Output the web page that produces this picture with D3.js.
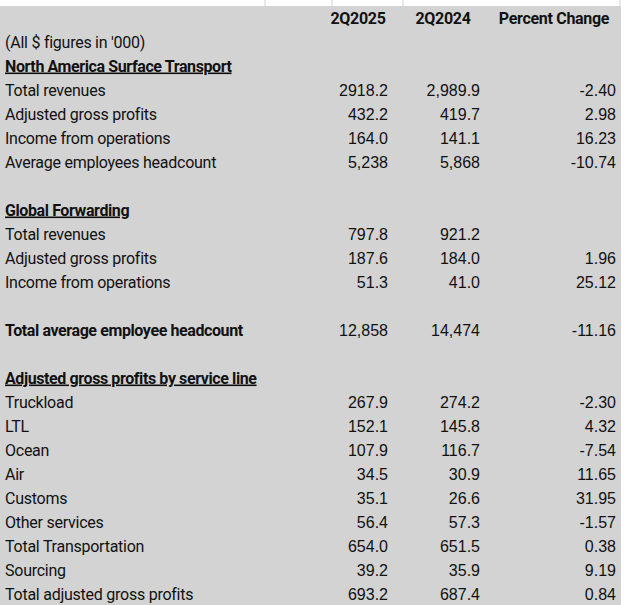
<!DOCTYPE html><html><head><meta charset="utf-8"><script src="https://cdn.jsdelivr.net/npm/d3@7"></script>
<style>body{margin:0;background:#fff}</style></head><body><svg id="c" width="625" height="605"></svg>
<script>
const headers=["2Q2025","2Q2024","Percent Change"];
const labels=["(All $ figures in '000)","North America Surface Transport","Total revenues","Adjusted gross profits","Income from operations","Average employees headcount","","Global Forwarding","Total revenues","Adjusted gross profits","Income from operations","","Total average employee headcount","","Adjusted gross profits by service line","Truckload","LTL","Ocean","Air","Customs","Other services","Total Transportation","Sourcing","Total adjusted gross profits"];
const rowType=["note","section","","","","","","section","","","","","bold","","section","","","","","","","","",""];
const v2025=["","","2918.2","432.2","164.0","5,238","","","797.8","187.6","51.3","","12,858","","","267.9","152.1","107.9","34.5","35.1","56.4","654.0","39.2","693.2"];
const v2024=["","","2,989.9","419.7","141.1","5,868","","","921.2","184.0","41.0","","14,474","","","274.2","145.8","116.7","30.9","26.6","57.3","651.5","35.9","687.4"];
const pct=["","","-2.40","2.98","16.23","-10.74","","","","1.96","25.12","","-11.16","","","-2.30","4.32","-7.54","11.65","31.95","-1.57","0.38","9.19","0.84"];
const svg=d3.select("#c");
svg.append("rect").attr("x",0).attr("y",6).attr("width",621).attr("height",599).attr("fill","#d3d3d3");
[265,332,403,620].forEach(x=>svg.append("line").attr("x1",x).attr("x2",x).attr("y1",0).attr("y2",6).attr("stroke","#d3d3d3"));
const y=d3.scaleBand().domain(d3.range(25)).range([6,606]);
const yc=i=>y(i)+y.bandwidth()/2+5.5;
const lf="Roboto, sans-serif", nf="'Liberation Sans', Arial, sans-serif";
const hx=[358,443,554];
svg.selectAll(".h").data(headers).join("text").attr("x",(d,i)=>hx[i]).attr("y",yc(0)).attr("text-anchor","middle")
 .attr("font-family",lf).attr("font-weight","bold").attr("font-size",16).attr("letter-spacing",-0.3).attr("fill","#111").text(d=>d);
const rows=labels.map((l,i)=>({l,t:rowType[i],a:v2025[i],b:v2024[i],p:pct[i],i:i+1}));
const g=svg.selectAll(".r").data(rows).join("g");
g.append("text").attr("x",5).attr("y",d=>yc(d.i)).attr("font-family",lf).attr("font-size",16).attr("fill","#111")
 .attr("font-weight",d=>d.t=="section"||d.t=="bold"?"bold":"normal")
 .attr("text-decoration",d=>d.t=="section"?"underline":null).attr("letter-spacing",d=>d.t=="section"||d.t=="bold"?-0.4:-0.25).text(d=>d.l);
[["a",388],["b",480],["p",616]].forEach(([k,x])=>g.append("text").attr("x",x).attr("y",d=>yc(d.i)).attr("text-anchor","end")
 .attr("font-family",nf).attr("font-size",16).attr("fill","#111").text(d=>d[k]));
</script></body></html>
